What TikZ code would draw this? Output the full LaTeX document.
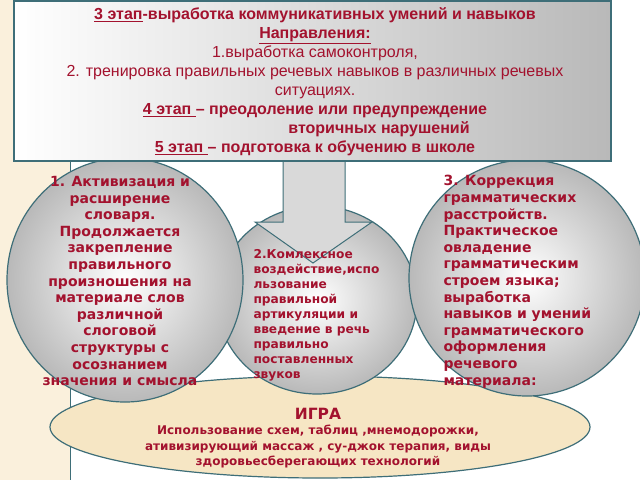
\documentclass[tikz,border=0pt]{standalone}
\usepackage{fontspec}
\setmainfont{Liberation Sans}
\newfontfamily\dv{DejaVu Sans}
\usetikzlibrary{shapes.geometric}
\definecolor{txt}{HTML}{A3122E}
\definecolor{edge}{HTML}{3E6E78}
\definecolor{beige}{HTML}{F6E6C4}
\tikzset{
 circ/.style={ellipse,draw=edge,line width=1.2pt,inner color=white,outer color=gray!55},
 ctext/.style={text=txt,font=\dv\bfseries\fontsize{14}{16.6}\selectfont,align=center},
}
\begin{document}
\begin{tikzpicture}[x=1pt,y=-1pt]
\useasboundingbox (0,0) rectangle (640,480);
\fill[beige!60] (0,0) rectangle (70,480);
\draw[edge] (70,0) -- (70,480);
% bottom ellipse
\node[ellipse,draw=edge,line width=1.2pt,fill=beige,minimum width=540pt,minimum height=102pt] (igra) at (320,427) {};
% circles
\node[circ,minimum width=200pt,minimum height=188pt] (mid) at (317,300) {};
\node[circ,minimum width=236pt,minimum height=244pt] (left) at (125,280) {};
\node[circ,minimum width=236pt,minimum height=236pt] (right) at (527,278) {};
% arrow
\path[draw=edge,line width=1pt,fill=gray!30] (283,150) -- (345,150) -- (345,222) -- (372,222) -- (313,263) -- (255,222) -- (283,222) -- cycle;
% top box
\node[draw=edge,line width=1.5pt,left color=white,right color=gray!55,minimum width=597pt,minimum height=160pt,anchor=north west] (top) at (13,0) {};
\node[text=txt,align=center,font=\fontsize{16}{19}\selectfont] (toptext) at (315,82) {%
\textbf{\underline{3 этап}-выработка коммуникативных умений и навыков}\\
\textbf{\underline{Направления:}}\\
1.выработка самоконтроля,\\
2. тренировка правильных речевых навыков в различных речевых\\
ситуациях.\\
\textbf{\underline{4 этап }– преодоление или предупреждение}\\
\hspace*{8em}\textbf{вторичных нарушений}\\
\textbf{\underline{5 этап }– подготовка к обучению в школе}};
% texts
\node[ctext] (lt) at (120,281) {1. Активизация и\\расширение\\словаря.\\Продолжается\\закрепление\\правильного\\произношения на\\материале слов\\различной\\слоговой\\структуры с\\осознанием\\значения и смысла};
\node[ctext,align=left,font=\dv\bfseries\fontsize{12.2}{15}\selectfont,anchor=north west] (mt) at (250,246) {2.Комлексное\\воздействие,испо\\льзование\\правильной\\артикуляции и\\введение в речь\\правильно\\поставленных\\звуков};
\node[ctext,align=left,anchor=north west] (rt) at (440,172) {3. Коррекция\\грамматических\\расстройств.\\Практическое\\овладение\\грамматическим\\строем языка;\\выработка\\навыков и умений\\грамматического\\оформления\\речевого\\материала:};
\node[text=txt,align=center,font=\dv\bfseries\fontsize{12}{15.5}\selectfont] (it) at (318,438) {{\fontsize{15.5}{17}\selectfont ИГРА}\\Использование схем, таблиц ,мнемодорожки,\\ативизирующий массаж , су-джок терапия, виды\\здоровьесберегающих технологий};
\end{tikzpicture}
\end{document}
